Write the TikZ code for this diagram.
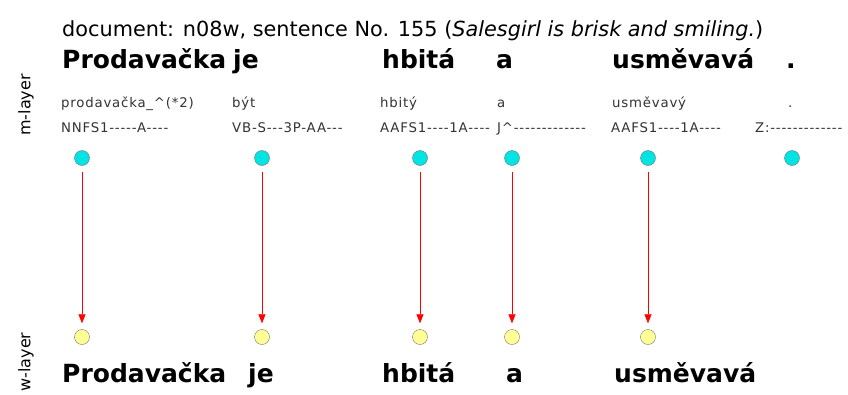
\documentclass[tikz,border=0pt]{standalone}
\usepackage{fontspec}
\setmainfont{DejaVu Sans}
\newfontfamily\tagfont{DejaVu Sans}[Ligatures=TeXOff,LetterSpace=6]
\usetikzlibrary{arrows.meta}

\definecolor{mcyan}{RGB}{0,228,228}
\definecolor{wyellow}{RGB}{255,255,150}

\tikzset{
  form/.style={font=\fontsize{25}{30}\selectfont\bfseries, inner sep=0pt, anchor=base west},
  small/.style={font=\fontsize{13.3}{15}\tagfont, text=black!80, inner sep=0pt, anchor=base west},
  layer/.style={font=\fontsize{16}{18}\selectfont, inner sep=0pt, rotate=90},
  mnode/.style={circle, draw=black!55, fill=mcyan, minimum size=15pt, inner sep=0pt},
  wnode/.style={circle, draw=black!55, fill=wyellow, minimum size=15pt, inner sep=0pt},
  link/.style={red, line width=0.7pt, -{Triangle[length=9pt,width=7pt]}, shorten <=6pt, shorten >=6pt}
}

\begin{document}
\begin{tikzpicture}[x=1pt,y=-1pt]
 \useasboundingbox[fill=white] (0,0) rectangle (848,394);
 \node[anchor=base west, inner sep=0pt, font=\fontsize{20.8}{24}\selectfont] (title) at (62,36)
   {document: n08w, sentence No. 155 (\textit{Salesgirl is brisk and smiling.})};
 \node[layer] (mlayer) at (26,105) {m-layer};
 \node[layer] (wlayer) at (26,362) {w-layer};

 % m-layer: forms, lemmas, tags
 \node[form] (mf1) at (62,68) {Prodavačka};
 \node[form] (mf2) at (233,68) {je};
 \node[form] (mf3) at (382,68) {hbitá};
 \node[form] (mf4) at (496,68) {a};
 \node[form] (mf5) at (612,68) {usměvavá};
 \node[form] (mf6) at (786,68) {.};

 \node[small] (ml1) at (61,107) {prodavačka\_\textasciicircum(*2)};
 \node[small] (ml2) at (232,107) {být};
 \node[small] (ml3) at (380,107) {hbitý};
 \node[small] (ml4) at (497,107) {a};
 \node[small] (ml5) at (612,107) {usměvavý};
 \node[small] (ml6) at (788,107) {.};

 \node[small] (mt1) at (61,132) {NNFS1-----A----};
 \node[small] (mt2) at (232,132) {VB-S---3P-AA---};
 \node[small] (mt3) at (380,132) {AAFS1----1A----};
 \node[small] (mt4) at (497,132) {J\textasciicircum-------------};
 \node[small] (mt5) at (611,132) {AAFS1----1A----};
 \node[small] (mt6) at (755,132) {Z:-------------};

 \node[mnode] (m1) at (82,158) {};
 \node[mnode] (m2) at (262,158) {};
 \node[mnode] (m3) at (420,158) {};
 \node[mnode] (m4) at (512,158) {};
 \node[mnode] (m5) at (648,158) {};
 \node[mnode] (m6) at (792,158) {};

 % w-layer
 \node[wnode] (w1) at (82,337) {};
 \node[wnode] (w2) at (262,337) {};
 \node[wnode] (w3) at (420,337) {};
 \node[wnode] (w4) at (512,337) {};
 \node[wnode] (w5) at (648,337) {};

 \node[form] (wf1) at (62,382) {Prodavačka};
 \node[form] (wf2) at (248,382) {je};
 \node[form] (wf3) at (382,382) {hbitá};
 \node[form] (wf4) at (506,382) {a};
 \node[form] (wf5) at (614,382) {usměvavá};

 \draw[link] (m1) -- (w1);
 \draw[link] (m2) -- (w2);
 \draw[link] (m3) -- (w3);
 \draw[link] (m4) -- (w4);
 \draw[link] (m5) -- (w5);
\end{tikzpicture}
\end{document}
